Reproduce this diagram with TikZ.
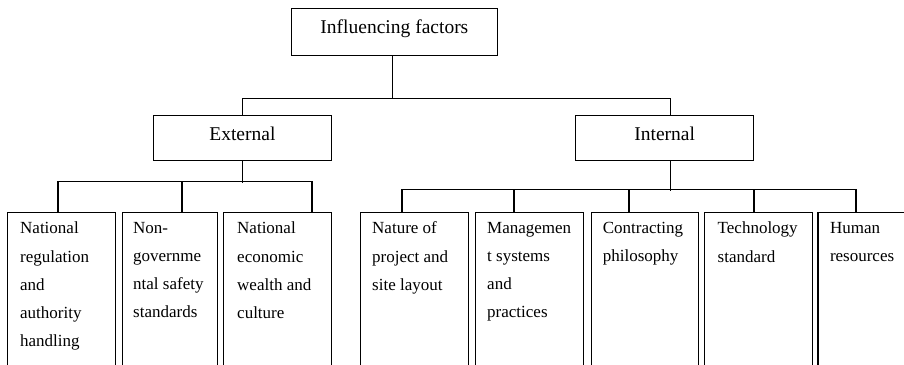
\documentclass[tikz,border=0pt]{standalone}
\usepackage{fontspec}
\setmainfont{Liberation Serif}
\begin{document}
\begin{tikzpicture}[x=1bp,y=-1bp,
  box/.style={draw, line width=1.4bp, inner sep=0pt, anchor=north west},
  head/.style={box, font=\fontsize{19.5bp}{23bp}\selectfont},
  leaf/.style={box, minimum height=175bp},
  leaftext/.style={anchor=north west, inner sep=0pt, align=left,
    font=\fontsize{17bp}{28.3bp}\selectfont},
  link/.style={line width=1.4bp, line join=miter}]
\useasboundingbox (0,0) rectangle (904,364);
\clip (0,0) rectangle (904,364);

% upper levels
\node[head, minimum width=206bp, text height=24.7bp, text depth=22.3bp]
  (root) at (290.7,8) {Influencing factors};
\node[head, minimum width=178bp, text height=24.3bp, text depth=20.7bp]
  (ext) at (152.7,115) {External};
\node[head, minimum width=178bp, text height=24.3bp, text depth=20.7bp]
  (int) at (575,115) {Internal};

% external factors
\node[leaf, minimum width=108bp] (e1) at (7,211.7) {};
\node[leaf, minimum width=95bp]  (e2) at (122,211.7) {};
\node[leaf, minimum width=108bp] (e3) at (223,211.7) {};

% internal factors
\node[leaf, minimum width=108bp]   (i1) at (360,211.7) {};
\node[leaf, minimum width=107.7bp] (i2) at (475,211.7) {};
\node[leaf, minimum width=107.3bp] (i3) at (590.7,211.7) {};
\node[leaf, minimum width=107.7bp] (i4) at (704,211.7) {};
\node[leaf, minimum width=120bp]   (i5) at (817.3,211.7) {};

% leaf texts
\node[leaftext] (e1t) at ([xshift=13bp,yshift=-10bp]e1.north west)
  {National\\regulation\\and\\authority\\handling};
\node[leaftext] (e2t) at ([xshift=11bp,yshift=-10bp]e2.north west)
  {Non-\\governme\\ntal safety\\standards};
\node[leaftext] (e3t) at ([xshift=14bp,yshift=-10bp]e3.north west)
  {National\\economic\\wealth and\\culture};
\node[leaftext] (i1t) at ([xshift=12bp,yshift=-10bp]i1.north west)
  {Nature of\\project and\\site layout};
\node[leaftext] (i2t) at ([xshift=12bp,yshift=-10bp]i2.north west)
  {Managemen\\t systems\\and\\practices};
\node[leaftext] (i3t) at ([xshift=12bp,yshift=-10bp]i3.north west)
  {Contracting\\philosophy};
\node[leaftext] (i4t) at ([xshift=13.5bp,yshift=-10bp]i4.north west)
  {Technology\\standard};
\node[leaftext] (i5t) at ([xshift=12.5bp,yshift=-10bp]i5.north west)
  {Human\\resources};

% root to the two groups
\draw[link] ([xshift=-2bp]root.south) -- ++(0,42) coordinate (rj);
\draw[link] (ext.north) |- (rj) -| ([xshift=6bp]int.north);

% external branch
\draw[link] (ext.south) -- ++(0,21.7) coordinate (ej);
\coordinate (ea) at (58,181.7);
\coordinate (eb) at (182,181.7);
\coordinate (ec) at (312,181.7);
\draw[link] (ea |- e1.north) -- (ea) -- (ec) -- (ec |- e3.north);
\draw[link] (eb) -- (eb |- e2.north);

% internal branch
\draw[link] ([xshift=6bp]int.south) -- ++(0,29.3) coordinate (ij);
\coordinate (ia) at (402,189.3);
\coordinate (ib) at (514,189.3);
\coordinate (ic) at (629,189.3);
\coordinate (id) at (754,189.3);
\coordinate (ie) at (856,189.3);
\draw[link] (ia |- i1.north) -- (ia) -- (ie) -- (ie |- i5.north);
\draw[link] (ib) -- (ib |- i2.north);
\draw[link] (ic) -- (ic |- i3.north);
\draw[link] (id) -- (id |- i4.north);
\end{tikzpicture}
\end{document}
